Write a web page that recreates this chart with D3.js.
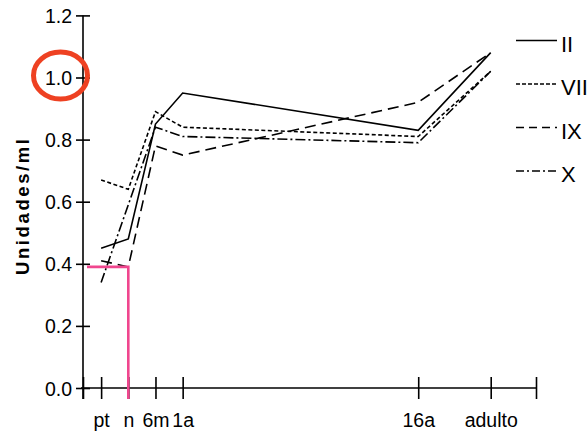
<!DOCTYPE html>
<html>
<head>
<meta charset="utf-8">
<script src="https://cdn.jsdelivr.net/npm/d3@7/dist/d3.min.js"></script>
<style>
  html, body { margin: 0; padding: 0; background: #fff; overflow: hidden; }
  svg { display: block; }
</style>
</head>
<body>
<svg id="chart" width="588" height="437"></svg>
<script>
// ---- data ----
const categories = ["pt", "n", "6m", "1a", "16a", "adulto"];
const positions  = [4, 10, 16, 22, 74, 90];          // position of each age on the x axis (0..100)
const seriesNames = ["II", "VII", "IX", "X"];
const valuesII  = [0.45, 0.48, 0.85, 0.95, 0.83, 1.08];
const valuesVII = [0.67, 0.64, 0.89, 0.84, 0.81, 1.02];
const valuesIX  = [0.41, 0.39, 0.78, 0.75, 0.92, 1.08];
const valuesX   = [0.34, 0.59, 0.84, 0.81, 0.79, 1.02];
const yTicks = [0.0, 0.2, 0.4, 0.6, 0.8, 1.0, 1.2];
const yTitle = "Unidades/ml";
const highlightValue = 0.39;     // pink marker level
const highlightCategory = "n";   // pink marker category
const circledTick = 1.0;         // circled y tick label

// ---- layout ----
const svg = d3.select("#chart");
const x = d3.scaleLinear().domain([0, 100]).range([83, 536]);
const y = d3.scaleLinear().domain([0, 1.2]).range([388, 15.4]);
const tickHalf = 7, xTickHalf = 11;
const font = "'Liberation Sans', Arial, sans-serif";

// y axis
const yAxis = d3.axisLeft(y).tickValues(yTicks).tickFormat(d3.format(".1f"))
  .tickSizeInner(tickHalf).tickSizeOuter(0).tickPadding(4);
const gy = svg.append("g").attr("transform", `translate(${x(0)},0)`).call(yAxis);
gy.select(".domain").remove();
gy.selectAll(".tick line").attr("x1", -tickHalf).attr("x2", tickHalf)
  .attr("stroke", "#000").attr("stroke-width", 1.6);
gy.selectAll(".tick text").attr("font-family", font).attr("font-size", 19.5)
  .attr("fill", "#000").attr("dy", "0.36em");
svg.append("line").attr("x1", x(0)).attr("x2", x(0))
  .attr("y1", y(1.2)).attr("y2", y(0) + xTickHalf)
  .attr("stroke", "#000").attr("stroke-width", 1.6);

// x axis
const xTickVals = [0].concat(positions, [100]);
const labelFor = d => { const i = positions.indexOf(d); return i >= 0 ? categories[i] : ""; };
const xAxis = d3.axisBottom(x).tickValues(xTickVals).tickFormat(labelFor)
  .tickSizeInner(xTickHalf).tickSizeOuter(0).tickPadding(14);
const gx = svg.append("g").attr("transform", `translate(0,${y(0)})`).call(xAxis);
gx.select(".domain").remove();
gx.selectAll(".tick line").attr("y1", -xTickHalf).attr("y2", xTickHalf)
  .attr("stroke", "#000").attr("stroke-width", 1.6);
gx.selectAll(".tick text").attr("font-family", font).attr("font-size", 19.5)
  .attr("fill", "#000").attr("dy", "0.71em");
svg.append("line").attr("x1", x(0) - 2).attr("x2", x(100))
  .attr("y1", y(0)).attr("y2", y(0))
  .attr("stroke", "#000").attr("stroke-width", 1.6);

// y title
svg.append("text")
  .attr("transform", `translate(29,${(y(0) + y(1.2)) / 2 + 4}) rotate(-90)`)
  .attr("text-anchor", "middle")
  .attr("font-family", font).attr("font-weight", "bold").attr("font-size", 18.5)
  .attr("letter-spacing", 2.6)
  .text(yTitle);

// series lines
const dashes = ["none", "4,2.5", "11,6", "10,3,2,3"];
const legendDashes = ["none", "4,2", "8,5", "8,3,2,3"];
const allValues = [valuesII, valuesVII, valuesIX, valuesX];
const line = d3.line().x((d, i) => x(positions[i])).y(d => y(d));
allValues.forEach((vals, k) => {
  svg.append("path").datum(vals).attr("d", line)
    .attr("fill", "none").attr("stroke", "#000").attr("stroke-width", 1.6)
    .attr("stroke-dasharray", dashes[k]);
});

// legend
const lg = svg.append("g");
seriesNames.forEach((name, k) => {
  const ly = 40.5 + k * 43.5;
  lg.append("line").attr("x1", 516).attr("x2", 557).attr("y1", ly).attr("y2", ly)
    .attr("stroke", "#000").attr("stroke-width", 1.6)
    .attr("stroke-dasharray", legendDashes[k]);
  lg.append("text").attr("x", 561).attr("y", ly + 11)
    .attr("font-family", font).attr("font-size", 22).attr("fill", "#000")
    .text(name);
});

// pink highlight (value at category n)
const hx = x(positions[categories.indexOf(highlightCategory)]);
svg.append("path")
  .attr("d", `M${x(0) + 4},${y(highlightValue)}H${hx}V${y(0) + xTickHalf}`)
  .attr("fill", "none").attr("stroke", "#f0468e").attr("stroke-width", 2.6);

// red circle around the 1.0 tick label
svg.append("ellipse")
  .attr("cx", x(0) - 22.5).attr("cy", y(circledTick) - 2)
  .attr("rx", 27).attr("ry", 23.5)
  .attr("fill", "none").attr("stroke", "#ee4122").attr("stroke-width", 5);
</script>
</body>
</html>
